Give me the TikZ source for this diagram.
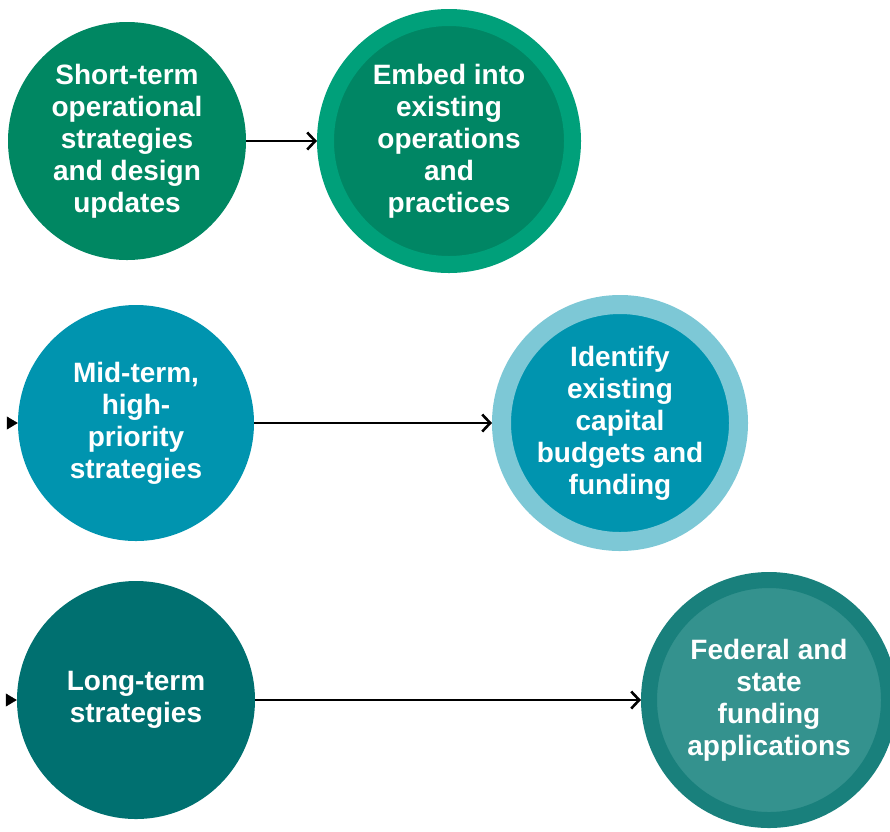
\documentclass[tikz,border=0pt]{standalone}
\usepackage{fontspec}
\setmainfont{Liberation Sans}
\usepackage{tikz}
\usetikzlibrary{positioning,arrows.meta}
\definecolor{shortgreen}{RGB}{0,135,98}
\definecolor{embedring}{RGB}{0,160,122}
\definecolor{embedfill}{RGB}{0,134,100}
\definecolor{midteal}{RGB}{0,148,175}
\definecolor{fundring}{RGB}{125,200,214}
\definecolor{longteal}{RGB}{0,112,112}
\definecolor{grantring}{RGB}{25,128,124}
\definecolor{grantfill}{RGB}{52,146,142}
\tikzset{
stagenode/.style = {circle, minimum size=#1, inner sep=0pt, align=center, text=white,
  font=\bfseries\fontsize{28}{32}\selectfont},
stagenode/.default = 238pt % size of the circle diameter
}
\tikzset{sg/.style={fill=shortgreen}}
\tikzset{eg/.style={fill=embedfill, draw=embedring, line width=17pt}}
\tikzset{mt/.style={fill=midteal}}
\tikzset{ft/.style={fill=midteal, draw=fundring, line width=19pt}}
\tikzset{lt/.style={fill=longteal}}
\tikzset{gt/.style={fill=grantfill, draw=grantring, line width=16pt}}

\begin{document}
\begin{tikzpicture}[x=1pt, y=-1pt,
      flow/.style={line width=2.6pt, -{Straight Barb[length=8pt,width=17pt]}},
      lead/.style={-{Triangle[length=11pt,width=13pt]}}]
      \useasboundingbox (0,0) rectangle (890,831);
      \node [stagenode, sg] (short) at (127,141) {Short-term\\operational\\strategies\\and design\\updates};
      \node [stagenode=247pt, eg] (embed) at (449,141) {Embed into\\existing\\operations\\and\\practices};
      \node [stagenode=236pt, mt] (mid) at (136,423) {Mid-term,\\high-\\priority\\strategies};
      \node [stagenode=237pt, ft] (fund) at (620,423) {Identify\\existing\\capital\\budgets and\\funding};
      \node [stagenode, lt] (long) at (136,700) {Long-term\\strategies};
      \node [stagenode=240pt, gt] (grant) at (769,700) {Federal and\\state\\funding\\applications};
      \coordinate (midin) at (7,423);
      \coordinate (longin) at (7,700);
      \draw [flow] (short) -- (embed);
      \draw [flow] (mid) -- (fund);
      \draw [flow] (long) -- (grant);
      \draw [lead] (midin) -- (mid);
      \draw [lead] (longin) -- (long);
    \end{tikzpicture}
\end{document}
